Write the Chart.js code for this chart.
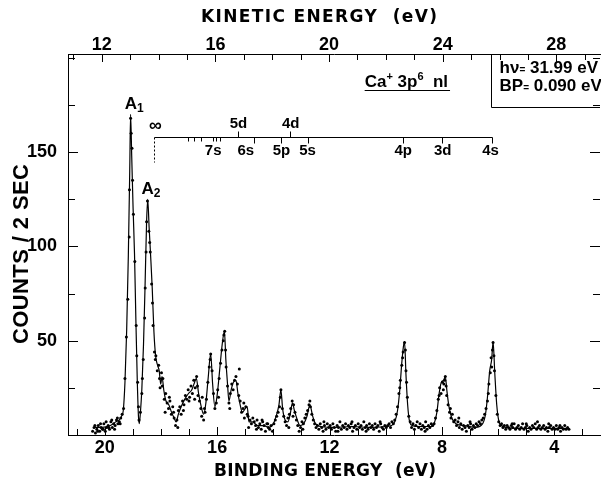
<!DOCTYPE html>
<html>
<head>
<meta charset="utf-8">
<script src="https://cdn.jsdelivr.net/npm/chart.js@4.4.1/dist/chart.umd.min.js"></script>
<style>
  html, body { margin: 0; padding: 0; background: #fff; overflow: hidden; }
  #wrap { width: 601px; height: 487px; overflow: hidden; }
  canvas { display: block; }
</style>
</head>
<body>
<div id="wrap"><canvas id="c" width="604" height="487"></canvas></div>
<script>
// sweep channels: binding energy of first channel and channel width (eV)
const channelStart = 20.43;
const channelStep = 0.05;

// counts per channel
const counts = [
  2, 4, 1, 3, 5, 2, 4, 3, 6, 2,
  4, 5, 3, 7, 4, 6, 5, 8, 6, 7,
  9, 11, 14, 30, 52, 72, 105, 168, 152, 117,
  92, 58, 28, 8, 12, 22, 40, 62, 97, 124,
  108, 97, 80, 58, 44, 42, 34, 37, 25, 33,
  30, 19, 22, 17, 14, 18, 11, 15, 9, 5,
  8, 13, 15, 11, 18, 16, 21, 19, 24, 20,
  26, 22, 29, 25, 31, 21, 18, 14, 20, 8,
  12, 19, 28, 36, 43, 34, 22, 14, 17, 24,
  30, 38, 45, 50, 55, 36, 26, 17, 22, 27,
  24, 29, 31, 27, 21, 18, 12, 14, 9, 15,
  11, 4, 8, 6, 9, 7, 5, 8, 4, 6,
  3, 7, 5, 2, 6, 4, 3, 5, 2, 6,
  8, 10, 12, 15, 24, 14, 10, 7, 5, 9,
  11, 14, 18, 16, 12, 8, 5, 2, 4, 7,
  6, 9, 11, 13, 16, 15, 11, 8, 6, 4,
  5, 3, 6, 4, 2, 5, 3, 6, 4, 5,
  3, 6, 4, 2, 5, 4, 7, 3, 5, 4,
  6, 3, 5, 4, 6, 2, 4, 5, 3, 6,
  4, 5, 3, 7, 4, 5, 3, 6, 4, 5,
  3, 6, 4, 5, 2, 6, 4, 3, 5, 4,
  5, 6, 4, 7, 6, 8, 11, 15, 22, 29,
  37, 44, 49, 34, 20, 10, 7, 4, 6, 3,
  5, 7, 4, 6, 3, 5, 4, 7, 3, 5,
  4, 6, 5, 6, 9, 13, 19, 25, 22, 28,
  27, 31, 21, 16, 12, 9, 11, 7, 8, 5,
  7, 4, 6, 3, 5, 4, 2, 5, 4, 6,
  3, 5, 4, 6, 5, 7, 6, 8, 9, 11,
  14, 18, 27, 33, 36, 49, 34, 21, 11, 7,
  5, 6, 4, 5, 3, 5, 4, 3, 5, 4,
  6, 3, 4, 5, 3, 4, 6, 3, 4, 5,
  2, 4, 3, 5, 4, 6, 3, 4, 5, 3,
  4, 5, 3, 4, 2, 4, 5, 3, 4, 3,
  5, 3, 4, 2, 4, 3, 5, 3, 4, 3
];

// second-sweep points that sit off the channel grid
const extraBE = [20.35, 20.25, 20.15, 20.05, 19.95, 19.85, 19.75, 19.65, 19.55, 19.45,
  19.12, 19.06, 19.01, 18.86, 18.80, 18.66, 18.56, 18.51, 18.40, 18.30,
  18.20, 18.05, 17.95, 17.85, 17.70, 17.55, 17.40, 17.20, 17.00, 16.80,
  16.70, 16.55, 16.45, 16.25, 15.95, 15.76, 15.70, 15.55, 15.21, 15.05,
  14.90, 14.60, 14.40, 14.20, 13.75, 13.45, 13.30, 12.95, 12.70, 12.20,
  11.70, 11.20, 10.70, 10.20, 9.50, 9.40, 9.30, 9.26, 8.60, 8.10,
  7.95, 7.90, 7.85, 7.70, 7.40, 7.00, 6.35, 6.25, 6.20, 6.15,
  5.50, 5.00, 4.60, 4.20, 3.80];
const extraCounts = [5, 2, 6, 3, 7, 4, 8, 3, 9, 6,
  130, 160, 135, 42, 15, 30, 78, 113, 102, 70,
  40, 30, 26, 12, 20, 12, 4, 13, 18, 19,
  26, 10, 14, 40, 20, 53, 45, 14, 35, 17,
  10, 3, 8, 6, 20, 4, 10, 3, 18, 7,
  2, 7, 2, 7, 25, 41, 45, 28, 2, 21,
  24, 29, 26, 14, 9, 7, 22, 41, 45, 42,
  6, 6, 7, 6, 5];

// the smoothed curve drawn through the points
const curveBE = [20.40, 20.10, 19.80, 19.60, 19.48, 19.40, 19.34, 19.28, 19.22, 19.16,
  19.11, 19.08, 19.04, 18.99, 18.94, 18.89, 18.84, 18.80, 18.77, 18.73,
  18.68, 18.62, 18.56, 18.51, 18.47, 18.42, 18.37, 18.31, 18.25, 18.19,
  18.12, 18.06, 18.01, 17.96, 17.90, 17.82, 17.72, 17.62, 17.53, 17.46,
  17.38, 17.28, 17.15, 17.02, 16.90, 16.80, 16.74, 16.66, 16.58, 16.48,
  16.40, 16.32, 16.23, 16.16, 16.08, 16.00, 15.90, 15.82, 15.74, 15.69,
  15.63, 15.58, 15.50, 15.42, 15.33, 15.26, 15.18, 15.10, 15.00, 14.93,
  14.87, 14.75, 14.55, 14.35, 14.15, 14.00, 13.90, 13.80, 13.73, 13.67,
  13.58, 13.48, 13.40, 13.32, 13.25, 13.17, 13.05, 12.92, 12.80, 12.70,
  12.60, 12.50, 12.30, 11.80, 11.20, 10.60, 10.00, 9.80, 9.68, 9.58,
  9.50, 9.43, 9.37, 9.33, 9.28, 9.22, 9.15, 9.05, 8.80, 8.40,
  8.28, 8.18, 8.10, 8.02, 7.94, 7.88, 7.82, 7.75, 7.65, 7.50,
  7.20, 6.80, 6.55, 6.45, 6.38, 6.30, 6.23, 6.18, 6.12, 6.05,
  5.97, 5.88, 5.70, 5.20, 4.50, 3.50];
const curveCounts = [4, 4, 5, 7, 8, 10, 13, 28, 55, 95,
  140, 170, 148, 120, 96, 60, 28, 10, 6, 12,
  24, 48, 82, 113, 125, 110, 96, 78, 55, 42,
  37, 34, 27, 31, 24, 18, 16, 12, 9, 7,
  11, 15, 19, 22, 24, 28, 30, 22, 16, 11,
  17, 30, 43, 27, 15, 21, 36, 48, 55, 40,
  27, 18, 24, 28, 29, 22, 16, 12, 14, 15,
  7, 7, 5, 5, 4, 6, 10, 16, 24, 14,
  8, 7, 11, 17, 13, 9, 5, 6, 10, 16,
  10, 6, 4.5, 4, 4.5, 4, 4.5, 5, 7, 13,
  24, 38, 47, 49.5, 32, 16, 7, 5, 4.5, 4.5,
  6, 12, 22, 28, 29, 31, 23, 15, 9, 6,
  5, 4, 6, 11, 20, 34, 40, 49.5, 33, 16,
  7, 5, 4, 3.5, 3.5, 3.5];

const bindingTicks = [20, 16, 12, 8, 4];
const kineticTicks = [12, 16, 20, 24, 28];
const countTicks = [50, 100, 150];

// Ca+ 3p6 nl series ladder (binding energy, eV)
const ladderLimit = 18.24;
const ladderMinor = [17.04, 16.83, 16.59, 16.16, 16.04, 15.89];
const ladderDown = [14.68, 13.74, 12.75, 9.37, 7.99, 6.23];
const ladderUp = [15.27, 13.39];
const downNames = ['7s', '6s', '5p', '5s', '4p', '3d', '4s'];
const downAt = [16.14, 14.98, 13.71, 12.78, 9.38, 7.97, 6.27];
const upNames = ['5d', '4d'];
const upAt = [15.24, 13.38];

const FONT = '"Liberation Sans", Arial, sans-serif';

const dots = counts.map((c, i) => ({ x: +(channelStart - i * channelStep).toFixed(2), y: c }))
  .concat(extraBE.map((e, i) => ({ x: e, y: extraCounts[i] })));
const curve = curveBE.map((e, i) => ({ x: e, y: curveCounts[i] }));

function spaced(ctx, text, cx, cy, font, width) {
  ctx.font = font;
  ctx.letterSpacing = '0px';
  const w0 = ctx.measureText(text).width;
  ctx.letterSpacing = ((width - w0) / (text.length - 1)) + 'px';
  ctx.textAlign = 'left';
  ctx.fillText(text, cx - width / 2, cy);
  ctx.letterSpacing = '0px';
}

const frameMarks = {
  id: 'frameMarks',
  afterDraw(chart) {
    const { ctx, chartArea: a } = chart;
    const X = v => chart.scales.x.getPixelForValue(v);
    const K = v => chart.scales.x2.getPixelForValue(v);
    const Y = v => chart.scales.y.getPixelForValue(v);
    const snap = p => Math.round(p) + 0.5;
    ctx.save();
    ctx.strokeStyle = '#000';
    ctx.fillStyle = '#000';
    ctx.lineWidth = 1;

    // inward ticks on all four sides
    ctx.beginPath();
    for (let v = 3; v <= 21; v++) {
      const p = snap(X(v));
      ctx.moveTo(p, a.bottom);
      ctx.lineTo(p, a.bottom - (bindingTicks.includes(v) ? 8 : 6));
    }
    for (let v = 11; v <= 29; v++) {
      const p = snap(K(v));
      ctx.moveTo(p, a.top);
      ctx.lineTo(p, a.top + (kineticTicks.includes(v) ? 8 : 6));
    }
    for (let v = 25; v <= 200; v += 25) {
      const p = snap(Y(v));
      const len = countTicks.includes(v) ? 10 : 7;
      ctx.moveTo(a.left, p); ctx.lineTo(a.left + len, p);
      ctx.moveTo(a.right, p); ctx.lineTo(a.right - len, p);
    }
    ctx.stroke();

    // series ladder
    const ly = snap(Y(158));
    ctx.beginPath();
    ctx.moveTo(snap(X(ladderLimit)), ly);
    ctx.lineTo(snap(X(ladderDown[ladderDown.length - 1])), ly);
    ladderMinor.forEach(v => { const p = snap(X(v)); ctx.moveTo(p, ly); ctx.lineTo(p, ly + 4); });
    ladderDown.forEach(v => { const p = snap(X(v)); ctx.moveTo(p, ly); ctx.lineTo(p, ly + 6); });
    ladderUp.forEach(v => { const p = snap(X(v)); ctx.moveTo(p, ly); ctx.lineTo(p, ly - 6); });
    ctx.stroke();
    ctx.setLineDash([2, 2]);
    ctx.beginPath();
    ctx.moveTo(snap(X(ladderLimit)), ly);
    ctx.lineTo(snap(X(ladderLimit)), Y(144.5));
    ctx.stroke();
    ctx.setLineDash([]);

    const font = s => `bold ${s}px ${FONT}`;
    const write = (x0, y0, parts) => {
      let cx = x0;
      for (const [t, s, rise] of parts) {
        ctx.font = font(s);
        ctx.fillText(t, cx, y0 - rise);
        cx += ctx.measureText(t).width;
      }
      return cx;
    };
    ctx.textBaseline = 'alphabetic';
    ctx.textAlign = 'left';
    write(X(19.29), Y(173), [['A', 17, 0], ['1', 12, -3]]);
    write(X(18.69), Y(127.8), [['A', 17, 0], ['2', 12, -3]]);

    ctx.textAlign = 'center';
    ctx.font = font(15);
    downNames.forEach((n, i) => ctx.fillText(n, X(downAt[i]), Y(148.5)));
    upNames.forEach((n, i) => ctx.fillText(n, X(upAt[i]), Y(162.8)));
    ctx.font = font(18);
    ctx.fillText('∞', X(18.20), Y(161));

    ctx.textAlign = 'left';
    const caEnd = write(X(10.75), Y(184.5), [['Ca', 17, 0], ['+', 11, 7], [' 3p', 17, 0], ['6', 11, 7], ['  nl', 17, 0]]);
    ctx.beginPath();
    const uy = snap(Y(182.9));
    ctx.moveTo(X(10.75), uy); ctx.lineTo(caEnd + 2, uy);
    ctx.stroke();

    // parameter box in the corner
    const bx = snap(X(6.25)), by = snap(Y(173.8));
    ctx.beginPath();
    ctx.moveTo(bx, a.top); ctx.lineTo(bx, by); ctx.lineTo(a.right, by);
    ctx.stroke();
    write(X(5.95), Y(192), [['hν', 17, 0], ['=', 10, 0], [' 31.99 eV', 17, 0]]);
    write(X(5.95), Y(182.5), [['BP', 17, 0], ['=', 10, 0], [' 0.090 eV', 17, 0]]);

    // axis titles
    const titleFont = 'bold 17px "DejaVu Sans", sans-serif';
    spaced(ctx, 'KINETIC ENERGY  (eV)', 319, 22, titleFont, 236);
    spaced(ctx, 'BINDING ENERGY  (eV)', 325, 476, titleFont, 222);
    ctx.save();
    ctx.translate(28, 254);
    ctx.rotate(-Math.PI / 2);
    spaced(ctx, 'COUNTS / 2 SEC', 0, 0, `bold 22px ${FONT}`, 180);
    ctx.restore();

    ctx.restore();
  }
};

const tickFont = { family: FONT, size: 18, weight: 'bold' };
const axisBorder = { display: true, color: '#000', width: 1 };

new Chart(document.getElementById('c'), {
  type: 'scatter',
  data: {
    datasets: [
      { data: dots, pointRadius: 1.5, pointBackgroundColor: '#000', pointBorderWidth: 0, showLine: false },
      { type: 'line', data: curve, borderColor: '#000', borderWidth: 1.2, pointRadius: 0,
        cubicInterpolationMode: 'monotone', fill: false }
    ]
  },
  options: {
    responsive: false,
    animation: false,
    devicePixelRatio: 1,
    layout: { padding: 0 },
    plugins: { legend: { display: false }, tooltip: { enabled: false } },
    scales: {
      x: {
        type: 'linear', position: 'bottom', reverse: true, min: 2.375, max: 21.307,
        grid: { display: false }, border: axisBorder,
        ticks: { color: '#000', font: tickFont, padding: -6, maxRotation: 0, autoSkip: false },
        afterBuildTicks: s => { s.ticks = bindingTicks.map(v => ({ value: v })); },
        afterFit: s => { s.height = 52; }
      },
      x2: {
        type: 'linear', position: 'top', min: 10.812, max: 29.537,
        grid: { display: false }, border: axisBorder,
        ticks: { color: '#000', font: tickFont, padding: -10, maxRotation: 0, autoSkip: false },
        afterBuildTicks: s => { s.ticks = kineticTicks.map(v => ({ value: v })); },
        afterFit: s => { s.height = 54; }
      },
      y: {
        type: 'linear', min: 0, max: 202,
        grid: { display: false }, border: axisBorder,
        ticks: { color: '#000', font: tickFont, padding: 3, autoSkip: false },
        afterBuildTicks: s => { s.ticks = countTicks.map(v => ({ value: v })); },
        afterFit: s => { s.width = 68; }
      }
    }
  },
  plugins: [frameMarks]
});
</script>
</body>
</html>
